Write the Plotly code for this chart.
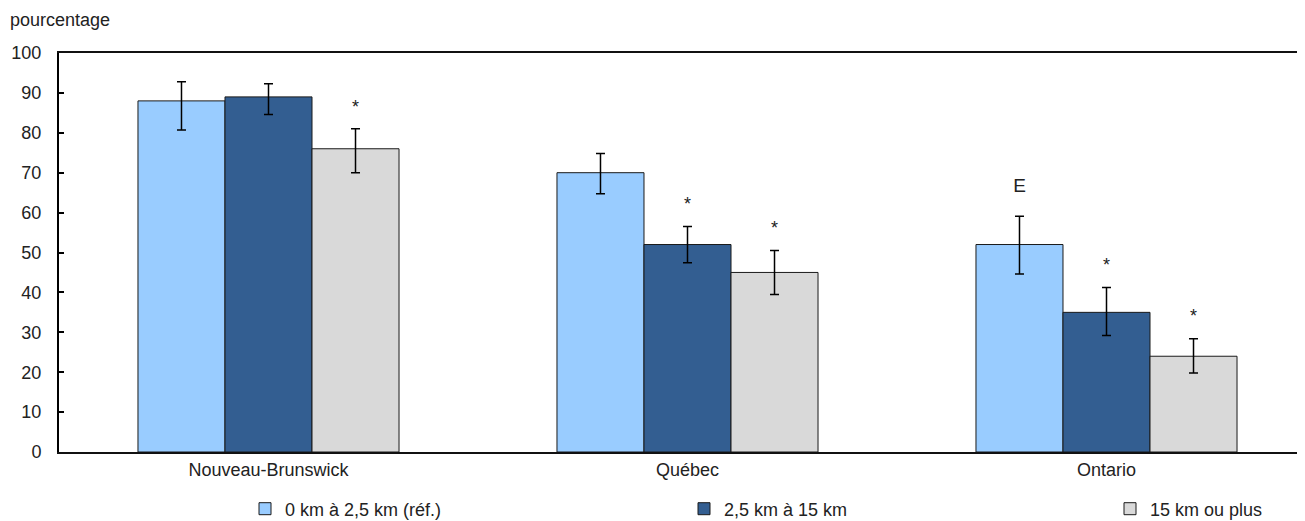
import plotly.graph_objects as go

categories = ["Nouveau-Brunswick", "Québec", "Ontario"]
series_names = ["0 km à 2,5 km (réf.)", "2,5 km à 15 km", "15 km ou plus"]
values = [
    [88, 70, 52],
    [89, 52, 35],
    [76, 45, 24],
]
err_hi = [
    [92.8, 74.8, 59.1],
    [92.3, 56.5, 41.2],
    [81.0, 50.5, 28.4],
]
err_lo = [
    [80.7, 64.7, 44.6],
    [84.6, 47.4, 29.2],
    [70.0, 39.5, 19.8],
]
flags = [
    ["", "", "E"],
    ["", "*", "*"],
    ["*", "*", "*"],
]
colors = ["#99CCFF", "#335E91", "#D9D9D9"]
y_ticks = [0, 10, 20, 30, 40, 50, 60, 70, 80, 90, 100]

FONT = "Liberation Sans, Arial, sans-serif"
TXT = "#222222"
bar_w = 87 / 419
xs = list(range(len(categories)))
legend_ids = ["legend", "legend2", "legend3"]

# page body has an 8px margin: figure is sized to fit exactly in the window
OFF = 8
W, H = 1305 - OFF, 521 - OFF
L, T, PW, PH = 59 - OFF, 53 - OFF, 1246, 399
legend_x = [245 - OFF, 684 - OFF, 1110 - OFF]
legend_y = 509 - OFF

fig = go.Figure()
for k, name in enumerate(series_names):
    fig.add_trace(go.Bar(
        x=xs, y=values[k], name=name, legend=legend_ids[k],
        marker=dict(color=colors[k], line=dict(color="#1a1a1a", width=1)),
        error_y=dict(type="data", symmetric=False,
                     array=[h - v for h, v in zip(err_hi[k], values[k])],
                     arrayminus=[v - l for l, v in zip(err_lo[k], values[k])],
                     color="#000000", thickness=1.5, width=4.5),
    ))

for k in range(len(series_names)):
    tx, ty, tt, ts = [], [], [], []
    for i in xs:
        if flags[k][i]:
            tx.append(i + (k - 1) * bar_w)
            is_e = flags[k][i] == "E"
            ty.append(err_hi[k][i] + (7.3 if is_e else 5.2))
            tt.append(flags[k][i])
            ts.append(19 if is_e else 18)
    fig.add_trace(go.Scatter(x=tx, y=ty, text=tt, mode="text", showlegend=False,
                             textfont=dict(family=FONT, size=ts, color=TXT),
                             hoverinfo="skip"))

leg_common = dict(orientation="h", xref="container", yref="container",
                  xanchor="left", yanchor="middle", y=1 - legend_y / H,
                  font=dict(family=FONT, size=18, color=TXT),
                  bgcolor="rgba(0,0,0,0)", itemwidth=30)
fig.update_layout(
    width=W, height=H,
    margin=dict(l=L, r=W - L - PW, t=T, b=H - T - PH, autoexpand=False),
    paper_bgcolor="white", plot_bgcolor="white",
    barmode="group", bargap=0.377, bargroupgap=0,
    font=dict(family=FONT, size=18, color=TXT),
    showlegend=True,
    legend=dict(x=legend_x[0] / W, **leg_common),
    legend2=dict(x=legend_x[1] / W, **leg_common),
    legend3=dict(x=legend_x[2] / W, **leg_common),
)
fig.add_annotation(text="pourcentage", xref="paper", yref="paper",
                   x=(8 - 59) / PW, y=(452 - 20) / PH,
                   xanchor="left", yanchor="middle", showarrow=False,
                   font=dict(family=FONT, size=18, color=TXT))

fig.update_xaxes(
    range=[-0.5, -0.5 + PW / 419],
    tickvals=xs, ticktext=categories,
    showline=True, linecolor="#111", linewidth=2, mirror=True,
    ticks="", showgrid=False, zeroline=False,
    tickfont=dict(family=FONT, size=18, color=TXT),
)
fig.update_yaxes(
    range=[0, 100], tickvals=y_ticks,
    showline=True, linecolor="#000", linewidth=2,
    ticks="inside", ticklen=5, tickcolor="#000", tickwidth=1.5,
    showgrid=False, zeroline=False, ticklabelstandoff=12,
    tickfont=dict(family=FONT, size=18, color=TXT),
)

fig.write_html("out.html")
